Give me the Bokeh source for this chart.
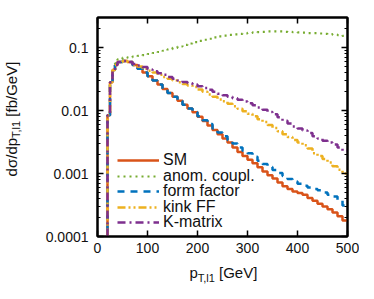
from bokeh.plotting import figure
from bokeh.models import (LinearAxis, LogAxis, FixedTicker, Legend, LegendItem,
                          CustomJSTickFormatter, Div)
from bokeh.layouts import row, column
from bokeh.embed import file_html
from bokeh.resources import INLINE

# ---------------- data ----------------
bin_edges = [20, 25, 30, 35, 40, 50, 60, 70, 80, 90, 100, 110, 120, 130, 140, 150,
             160, 170, 180, 190, 200, 210, 220, 230, 240, 250, 260, 270, 280, 290,
             300, 310, 320, 330, 340, 350, 360, 370, 380, 390, 400, 410, 420, 430,
             440, 450, 460, 470, 480, 490, 500]

sm = [0.0084, 0.028, 0.044, 0.053, 0.059, 0.061, 0.059, 0.053, 0.046, 0.040,
      0.035, 0.030, 0.026, 0.022, 0.019, 0.0165, 0.0143, 0.0124, 0.0108, 0.0094,
      0.0080, 0.0068, 0.0058, 0.0049, 0.0042, 0.0036, 0.0031, 0.0026, 0.0022, 0.0019,
      0.00165, 0.00145, 0.00126, 0.00108, 0.00094, 0.00083, 0.00072, 0.00063, 0.00057, 0.00052,
      0.00049, 0.00046, 0.00041, 0.00037, 0.00033, 0.00030, 0.00027, 0.00024, 0.00021, 0.00018]

anom = [0.0084, 0.028, 0.045, 0.056, 0.065, 0.069, 0.070, 0.072, 0.074, 0.076,
        0.079, 0.082, 0.085, 0.089, 0.094, 0.099, 0.104, 0.110, 0.116, 0.122,
        0.128, 0.133, 0.138, 0.145, 0.151, 0.155, 0.159, 0.162, 0.165, 0.168,
        0.171, 0.174, 0.176, 0.178, 0.180, 0.181, 0.180, 0.178, 0.177, 0.175,
        0.174, 0.172, 0.170, 0.169, 0.167, 0.165, 0.163, 0.160, 0.158, 0.153]

form_factor = [0.0084, 0.028, 0.044, 0.053, 0.059, 0.061, 0.059, 0.053, 0.046, 0.040,
               0.035, 0.030, 0.026, 0.022, 0.019, 0.0165, 0.0143, 0.0124, 0.0108, 0.0095,
               0.0081, 0.0070, 0.0061, 0.0052, 0.0045, 0.0039, 0.0034, 0.0030, 0.0026, 0.0023,
               0.0021, 0.00185, 0.0016, 0.00142, 0.00127, 0.00114, 0.00102, 0.00091, 0.00082, 0.00075,
               0.00069, 0.00064, 0.00060, 0.00057, 0.00054, 0.00050, 0.00046, 0.00043, 0.00038, 0.00031]

kink_ff = [0.0084, 0.028, 0.044, 0.053, 0.059, 0.061, 0.059, 0.053, 0.050, 0.046,
           0.043, 0.040, 0.037, 0.034, 0.032, 0.030, 0.028, 0.0265, 0.025, 0.0237,
           0.0215, 0.0198, 0.018, 0.0165, 0.015, 0.014, 0.0128, 0.0117, 0.0107, 0.0097,
           0.0089, 0.0081, 0.0073, 0.0066, 0.0059, 0.0053, 0.0047, 0.0042, 0.0038, 0.0034,
           0.0031, 0.0028, 0.0025, 0.0021, 0.0019, 0.0017, 0.0015, 0.0013, 0.00115, 0.0010]

k_matrix = [0.0084, 0.028, 0.044, 0.053, 0.059, 0.061, 0.059, 0.055, 0.052, 0.049,
            0.045, 0.042, 0.039, 0.037, 0.034, 0.032, 0.030, 0.0285, 0.027, 0.0258,
            0.0243, 0.0228, 0.0213, 0.0198, 0.0185, 0.0175, 0.0165, 0.0157, 0.0148, 0.0139,
            0.0130, 0.0121, 0.0112, 0.0103, 0.0095, 0.0087, 0.0078, 0.0069, 0.0062, 0.0056,
            0.0052, 0.0048, 0.0044, 0.0039, 0.0036, 0.0033, 0.0031, 0.0029, 0.0026, 0.0023]

series_names = ["SM", "anom. coupl.", "form factor", "kink FF", "K-matrix"]
series_values = [sm, anom, form_factor, kink_ff, k_matrix]

x_ticks = [0, 100, 200, 300, 400, 500]
y_ticks = [0.0001, 0.001, 0.01, 0.1]
y_tick_labels = ["0.0001", "0.001", "0.01", "0.1"]

x_title = ("p", "T,l1", " [GeV]")
y_title = ("dσ/dp", "T,l1", " [fb/GeV]")

# ---------------- styles ----------------
colors = ["#D95319", "#77AC30", "#0072BD", "#EDB120", "#7E2F8E"]
dashes = ["solid", "2 4", "7 6", "8 3 2 3 2 3", "8 4 2 4"]
widths = [2.5, 2.2, 2.5, 2.5, 2.5]
FONT = "Liberation Sans"
TICK_FS = 14
LEG_FS = 16
TITLE_FS = 15
SUB_FS = 11
TXT = "#111111"

YDIV_W = 28
FW, FH = 250, 219
p = figure(frame_width=FW, frame_height=FH, x_range=(0, 500), y_range=(1e-4, 0.3),
           y_axis_type="log", output_backend="svg", toolbar_location=None,
           min_border_left=97 - YDIV_W, min_border_right=12, min_border_top=17,
           min_border_bottom=27)
p.background_fill_color = "white"
p.border_fill_color = "white"
p.outline_line_color = "black"
p.outline_line_width = 2
p.xgrid.visible = False
p.ygrid.visible = False

minor = [m * 10.0 ** k for k in range(-4, 0) for m in range(2, 10)]

p.xaxis.ticker = FixedTicker(ticks=x_ticks)
p.yaxis.ticker = FixedTicker(ticks=y_ticks, minor_ticks=minor)
p.yaxis.major_label_overrides = {t: l for t, l in zip(y_ticks, y_tick_labels)}

for ax in [p.xaxis[0], p.yaxis[0]]:
    ax.axis_line_width = 2
    ax.major_tick_in = 6
    ax.major_tick_out = 0
    ax.minor_tick_in = 3
    ax.minor_tick_out = 0
    ax.major_tick_line_width = 1.5
    ax.minor_tick_line_width = 1.2
    ax.major_label_text_font = FONT
    ax.major_label_text_font_size = f"{TICK_FS}px"
    ax.major_label_text_color = TXT
p.xaxis.minor_tick_in = 0
p.xaxis.major_label_standoff = 6
p.yaxis.major_label_standoff = 9

blank = CustomJSTickFormatter(code="return ''")
top = LinearAxis(ticker=FixedTicker(ticks=x_ticks), formatter=blank,
                 major_tick_in=6, major_tick_out=0, minor_tick_in=0, minor_tick_out=0,
                 axis_line_width=2, major_tick_line_width=1.5, major_label_standoff=0)
p.add_layout(top, "above")
right = LogAxis(ticker=FixedTicker(ticks=y_ticks, minor_ticks=minor), formatter=blank,
                major_tick_in=6, major_tick_out=0, minor_tick_in=3, minor_tick_out=0,
                axis_line_width=2, major_tick_line_width=1.5, minor_tick_line_width=1.2,
                major_label_standoff=0)
p.add_layout(right, "right")

renderers = []
for vals, c, d, w in zip(series_values, colors, dashes, widths):
    xs = [bin_edges[0]] + bin_edges
    ys = [1e-6] + list(vals) + [vals[-1]]
    r = p.step(x=xs, y=ys, mode="after", line_color=c, line_dash=d, line_width=w)
    renderers.append(r)

# legend: one row per Legend, tight row spacing like the reference
row_centers = [75.8, 60.4, 45.0, 29.6, 14.2]
for name, r, yc in zip(series_names, renderers, row_centers):
    lg = Legend(items=[LegendItem(label=name, renderers=[r])], location=(20, yc - 9.2),
                padding=0, margin=0, spacing=0, background_fill_alpha=0, border_line_alpha=0,
                glyph_width=42, glyph_height=18, label_standoff=4,
                label_text_font=FONT, label_text_font_size=f"{LEG_FS}px", label_text_color=TXT)
    p.add_layout(lg, "center")

# axis titles as HTML text with real subscripts
def title_html(parts):
    main, sub, rest = parts
    return (f"{main}<sub style=\"font-size:{SUB_FS}px; line-height:0; vertical-align:-3.5px\">"
            f"{sub}</sub>{rest}")

base = (f"position:absolute; white-space:nowrap; font-family:'{FONT}'; font-size:{TITLE_FS}px; "
        f"line-height:{TITLE_FS}px; color:{TXT};")

ydiv = Div(text=(f"<div style=\"{base} left:11px; top:119px; "
                 f"transform:translate(-50%,-50%) rotate(-90deg);\">{title_html(y_title)}</div>"),
           width=YDIV_W, height=290, margin=(0, 0, 0, 0))
xdiv = Div(text=(f"<div style=\"{base} left:{223.4 - YDIV_W}px; top:2px; "
                 f"transform:translateX(-50%);\">{title_html(x_title)}</div>"),
           width=FW + 69 + 12, height=28, margin=(0, 0, 0, 0))

layout = row(ydiv, column(p, xdiv, spacing=0), spacing=0)

open("out.html", "w").write(file_html(layout, INLINE))
